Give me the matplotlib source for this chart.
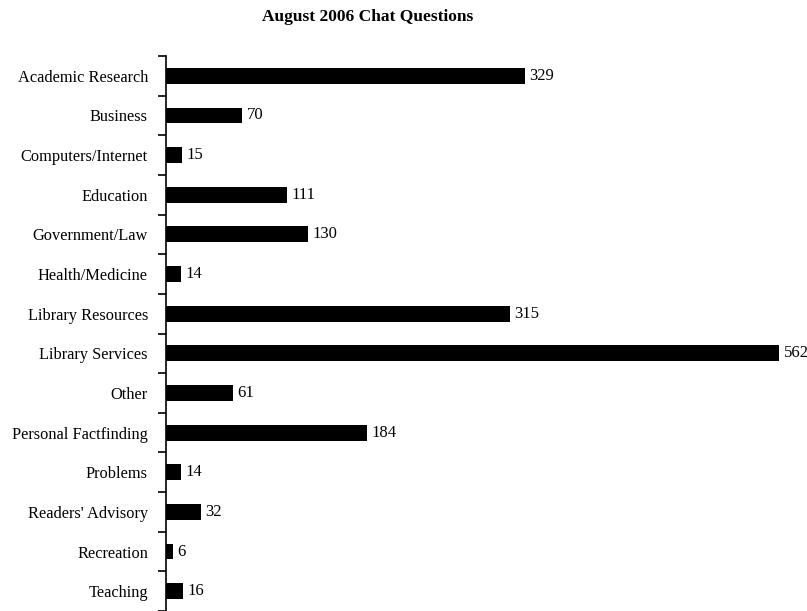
import matplotlib.pyplot as plt
import numpy as np

categories = ['Academic Research', 'Business', 'Computers/Internet', 'Education',
              'Government/Law', 'Health/Medicine', 'Library Resources',
              'Library Services', 'Other', 'Personal Factfinding', 'Problems',
              "Readers' Advisory", 'Recreation', 'Teaching']
counts = [329, 70, 15, 111, 130, 14, 315, 562, 61, 184, 14, 32, 6, 16]

plt.rcParams['font.family'] = 'Liberation Serif'

fig = plt.figure(figsize=(8.07, 6.11), dpi=100)
ax = fig.add_axes([166 / 807, 0, (807 - 166) / 807, (611 - 56) / 611])

y = np.arange(len(categories))
ax.barh(y, counts, height=0.4, color='black')
for yi, v in zip(y, counts):
    ax.text(v + 4, yi, str(v), va='center', ha='left', fontsize=12)

ax.set_xlim(0, 587.5)
ax.set_ylim(len(categories) - 0.5, -0.5)
ax.set_yticks(y)
ax.set_yticklabels(categories, fontsize=11.8)
ax.set_yticks(np.arange(len(categories) + 1) - 0.5, minor=True)
ax.tick_params(axis='y', which='major', length=0, pad=13)
ax.tick_params(axis='y', which='minor', length=6, width=1.2)
ax.set_xticks([])
for s in ['top', 'right', 'bottom']:
    ax.spines[s].set_visible(False)
ax.spines['left'].set_linewidth(1.2)

fig.text(368 / 807, 1 - 17 / 611, 'August 2006 Chat Questions', ha='center',
         va='center', fontsize=12.5, fontweight='bold')

fig.savefig('out.png', dpi=100)
